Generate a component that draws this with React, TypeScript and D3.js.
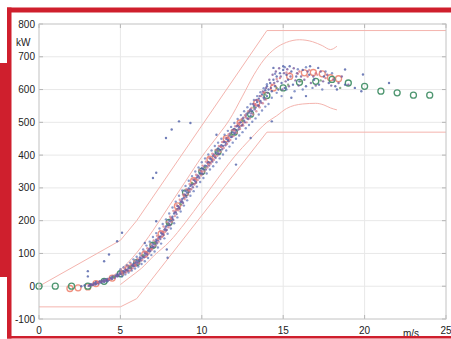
import React, { useEffect, useRef } from 'react';
import * as d3 from 'd3';

type Pt = [number, number];

// wind speed (m/s), power (kW)
const X_TICKS = [0, 5, 10, 15, 20, 25];
const Y_TICKS = [-100, 0, 100, 200, 300, 400, 500, 600, 700, 800];

const upperOuter: Pt[] = [[0, 0], [5, 140], [6, 200], [14, 780], [25, 780]];
const lowerOuter: Pt[] = [[0, -63], [5, -63], [6, -38], [14, 470], [25, 470]];
const upperInner: Pt[] = [
  [4.5, 30], [5, 50], [6, 102], [7, 170], [8, 245], [9, 320], [10, 395], [11, 460],
  [11.7, 508], [12.5, 580], [13.2, 645], [13.8, 690], [14.5, 725], [15.2, 744],
  [16, 752], [16.8, 746], [17.4, 734], [17.9, 722], [18.3, 732],
];
const lowerInner: Pt[] = [
  [5, 5], [5.6, 28], [6.3, 55], [7.1, 95], [8, 135], [9, 195], [10, 262], [11, 330],
  [12, 395], [13, 450], [14, 500], [14.6, 520], [15.2, 542], [16.2, 556], [17, 558],
  [17.5, 553], [17.9, 544], [18.3, 538],
];

const blueDots: Pt[] = [
  [2.6, 0], [2.8, 2], [3.1, 2], [3.2, 6], [3.3, 4], [3.4, 9], [3.5, 7], [3.5, 13], [3.6, 10], [3.7, 14],
  [3.8, 11], [3.9, 16], [4.0, 13], [4.0, 20], [4.1, 18], [4.2, 15], [4.2, 22], [4.3, 20], [4.4, 26],
  [4.5, 23], [4.5, 29], [4.6, 27], [4.7, 32], [4.8, 30], [4.8, 36], [4.9, 34], [5.0, 38], [5.0, 44],
  [5.1, 40], [5.2, 46], [5.3, 44], [5.3, 51], [5.4, 49], [5.5, 55], [5.5, 60], [5.6, 57], [5.7, 63],
  [5.8, 61], [5.8, 68], [5.9, 70], [6.0, 66], [6.0, 78], [6.1, 74], [6.2, 82], [6.2, 88], [6.3, 85],
  [6.4, 90], [6.5, 94], [6.5, 102], [6.6, 100], [6.7, 108], [6.8, 106], [6.8, 115], [6.9, 118],
  [7.0, 120], [7.0, 130], [7.1, 128], [7.2, 136], [7.2, 142], [7.3, 140], [7.4, 150], [7.5, 152],
  [7.5, 163], [7.6, 160], [7.7, 172], [7.8, 170], [7.8, 182], [7.9, 186], [8.0, 190], [8.0, 200],
  [8.1, 198], [8.2, 212], [8.2, 205], [8.3, 222], [8.4, 226], [8.5, 235], [8.5, 245], [8.6, 240],
  [8.7, 256], [8.8, 258], [8.8, 266], [8.9, 270], [9.0, 278], [9.0, 290], [9.1, 285], [9.2, 298],
  [9.3, 296], [9.3, 306], [9.4, 310], [9.5, 312], [9.5, 325], [9.6, 320], [9.7, 332], [9.8, 335],
  [9.9, 345], [10.0, 345], [10.0, 360], [10.1, 356], [10.2, 368], [10.3, 366], [10.4, 378],
  [10.5, 376], [10.5, 390], [10.6, 386], [10.7, 398], [10.8, 395], [10.9, 408], [11.0, 405],
  [11.0, 420], [11.1, 415], [11.2, 430], [11.3, 428], [11.4, 440], [11.5, 436], [11.5, 450],
  [11.6, 446], [11.7, 460], [11.8, 455], [11.9, 470], [12.0, 465], [12.0, 480], [12.1, 475],
  [12.2, 490], [12.3, 485], [12.4, 500], [12.5, 492], [12.5, 510], [12.6, 505], [12.7, 520],
  [12.8, 512], [12.9, 530], [13.0, 520], [13.0, 540], [13.1, 535], [13.2, 550], [13.3, 545],
  [13.4, 562], [13.5, 550], [13.5, 572], [13.6, 565], [13.7, 585], [13.8, 575], [13.9, 598],
  [14.0, 580], [14.0, 610], [14.1, 600], [14.2, 620], [14.3, 595], [14.4, 630], [14.5, 610],
  [14.6, 640], [14.7, 600], [14.8, 650], [14.9, 620], [15.0, 660], [15.1, 605], [15.2, 645],
  [15.3, 630], [15.5, 655], [15.6, 615], [15.8, 640], [16.0, 625], [16.2, 660], [16.4, 610],
  [16.6, 645], [16.9, 630], [17.2, 615], [17.5, 640], [17.8, 620], [18.2, 610], [18.8, 615],
  // scattered outliers
  [3.0, 46], [3.0, 30], [4.0, 76], [4.3, 97], [4.8, 137], [5.1, 163], [6.5, 132], [7.0, 330],
  [7.2, 346], [7.2, 198], [7.8, 452], [7.9, 87], [7.85, 112], [8.15, 478], [8.6, 503], [9.3, 498],
  [10.9, 462], [12.1, 371], [13.0, 452], [14.3, 503], [18.8, 661], [19.9, 646], [21.5, 620],
  [19.8, 595], [18.3, 600], [19.4, 605], [15.0, 671], [15.4, 671], [16.65, 671], [17.15, 666],
  [14.4, 666], [16.4, 580], [15.5, 575],
];
const wideDots: Pt[] = [
  [5.0, 52], [5.1, 30], [5.2, 58], [5.3, 36], [5.4, 64], [5.5, 42], [5.6, 72], [5.7, 48], [5.8, 82],
  [5.9, 54], [6.0, 90], [6.1, 60], [6.2, 100], [6.3, 68], [6.4, 112], [6.5, 76], [6.6, 124], [6.7, 86],
  [6.8, 136], [6.9, 95], [7.0, 150], [7.1, 106], [7.2, 162], [7.3, 118], [7.4, 176], [7.5, 130],
  [7.6, 190], [7.7, 146], [7.8, 204], [7.9, 160], [8.0, 222], [8.1, 176], [8.2, 240], [8.3, 192],
  [8.4, 258], [8.5, 210], [8.6, 276], [8.7, 228], [8.8, 292], [8.9, 246], [9.0, 306], [9.1, 262],
  [9.2, 322], [9.3, 276], [9.4, 336], [9.5, 290], [9.6, 350], [9.7, 304], [9.8, 362], [9.9, 318],
  [10.0, 378], [10.1, 330], [10.2, 390], [10.3, 344], [10.4, 402], [10.5, 356], [10.6, 414],
  [10.7, 366], [10.8, 428], [10.9, 378], [11.0, 438], [11.1, 390], [11.2, 450], [11.3, 402],
  [11.4, 462], [11.5, 414], [11.6, 474], [11.7, 426], [11.8, 486], [11.9, 438], [12.0, 498],
  [12.1, 450], [12.2, 510], [12.3, 460], [12.4, 522], [12.5, 470], [12.6, 534], [12.7, 482],
  [12.8, 546], [12.9, 492], [13.0, 556], [13.1, 502], [13.2, 568], [13.3, 512], [13.4, 580],
  [13.5, 524], [13.6, 592], [13.7, 536], [13.8, 604], [13.9, 548], [14.0, 616], [14.1, 556],
  [14.3, 575], [14.6, 590], [14.9, 580], [15.2, 600], [15.7, 595], [16.2, 600], [16.8, 605],
  [17.4, 600], [14.5, 648], [15.1, 668], [15.9, 662], [16.4, 668], [17.6, 655], [18.0, 650],
];
const purpleDots: Pt[] = [
  [3.05, 1], [3.15, 5], [3.25, 3], [3.35, 8], [3.45, 5], [3.55, 11], [3.65, 8], [3.75, 15], [3.85, 13],
  [3.95, 18], [4.05, 15], [4.15, 21], [4.25, 18], [4.35, 24], [4.45, 22], [4.55, 30], [4.65, 26],
  [4.75, 33], [4.85, 31], [4.95, 39], [5.05, 37], [5.15, 45], [5.25, 42], [5.35, 50], [5.45, 48],
  [5.55, 58], [5.65, 55], [5.75, 64], [5.85, 62], [5.95, 73], [6.05, 71], [6.15, 80], [6.25, 78],
  [6.35, 92], [6.45, 88], [6.55, 100], [6.65, 96], [6.75, 112], [6.85, 108], [6.95, 124], [7.05, 120],
  [7.15, 135], [7.25, 131], [7.35, 148], [7.45, 144], [7.55, 160], [7.65, 156], [7.75, 176],
  [7.85, 172], [7.95, 192], [8.05, 186], [8.15, 208], [8.25, 202], [8.35, 226], [8.45, 220],
  [8.55, 244], [8.65, 236], [8.75, 260], [8.85, 254], [8.95, 280], [9.05, 272], [9.15, 294],
  [9.25, 288], [9.35, 310], [9.45, 302], [9.55, 324], [9.65, 316], [9.75, 338], [9.85, 330],
  [9.95, 352], [10.05, 342], [10.15, 364], [10.25, 356], [10.35, 376], [10.45, 368], [10.55, 390],
  [10.65, 380], [10.75, 402], [10.85, 392], [10.95, 414], [11.05, 404], [11.15, 426], [11.25, 418],
  [11.35, 440], [11.45, 430], [11.55, 452], [11.65, 442], [11.75, 466], [11.85, 456], [11.95, 478],
  [12.05, 468], [12.15, 488], [12.25, 478], [12.35, 500], [12.45, 490], [12.55, 514], [12.65, 500],
  [12.75, 526], [12.85, 510], [12.95, 536], [13.05, 528], [13.15, 556], [13.25, 540], [13.35, 568],
  [13.45, 552], [13.55, 580], [13.65, 560], [13.75, 594], [13.85, 570], [13.95, 605], [14.05, 590],
  [14.15, 630], [14.25, 605], [14.35, 645], [14.45, 620], [14.55, 655], [14.65, 625], [14.75, 665],
  [14.85, 640], [14.95, 600], [15.05, 650], [15.15, 625], [15.25, 662], [15.35, 610], [15.45, 640],
  [15.65, 665], [15.75, 628], [15.85, 650], [15.95, 612], [16.1, 640], [16.3, 630], [16.5, 655],
  [16.7, 620], [16.85, 640], [17.0, 612], [17.3, 655], [17.45, 625], [17.7, 645], [17.95, 612],
  [18.1, 630], [18.4, 620], [18.6, 640], [19.0, 615],
];
const pinkDots: Pt[] = [
  [5.05, 48], [5.15, 36], [5.25, 54], [5.35, 42], [5.45, 60], [5.55, 48], [5.65, 68], [5.75, 55],
  [5.85, 76], [5.95, 62], [6.05, 84], [6.15, 70], [6.25, 94], [6.35, 80], [6.45, 106], [6.55, 90],
  [6.65, 116], [6.75, 100], [6.85, 128], [6.95, 112], [7.05, 140], [7.15, 124], [7.25, 154],
  [7.35, 136], [7.45, 168], [7.55, 150], [7.65, 182], [7.75, 166], [7.85, 196], [7.95, 180],
  [8.05, 212], [8.15, 196], [8.25, 230], [8.35, 214], [8.45, 248], [8.55, 232], [8.65, 264],
  [8.75, 248], [8.85, 280], [8.95, 266], [9.05, 296], [9.15, 280], [9.25, 312], [9.35, 296],
  [9.45, 326], [9.55, 310], [9.65, 340], [9.75, 324], [9.85, 354], [9.95, 338], [10.05, 368],
  [10.15, 350], [10.25, 380], [10.35, 362], [10.45, 392], [10.55, 374], [10.65, 404], [10.75, 386],
  [10.85, 416], [10.95, 398], [11.05, 428], [11.15, 410], [11.25, 440], [11.35, 422], [11.45, 452],
  [11.55, 434], [11.65, 464], [11.75, 446], [11.85, 476], [11.95, 458], [12.05, 488], [12.15, 468],
  [12.25, 498], [12.35, 480], [12.45, 510], [12.55, 490], [12.65, 522], [12.75, 500], [12.85, 534],
  [12.95, 512], [13.05, 544], [13.15, 524], [13.25, 556], [13.35, 534], [13.45, 568], [13.55, 546],
  [13.65, 580], [13.75, 558], [13.85, 592], [13.95, 570], [14.6, 632], [15.2, 652], [15.9, 648],
  [16.6, 660], [17.1, 645],
];
const redDots: Pt[] = [
  [3.6, 12], [4.3, 22], [5.1, 42], [5.9, 66], [6.6, 104], [7.3, 145], [8.1, 205], [8.9, 275],
  [9.6, 328], [10.4, 372], [11.2, 425], [12.0, 475], [12.7, 515], [13.3, 555], [13.8, 590],
  [14.3, 615], [14.8, 635], [15.4, 650], [16.0, 655], [16.5, 640], [17.0, 650], [17.6, 635],
  [6.9, 114], [7.6, 166], [8.4, 232], [9.2, 292], [10.0, 350], [10.8, 398], [11.6, 452], [12.3, 495],
];
const greenDots: Pt[] = [
  [4.6, 28], [5.6, 58], [6.4, 95], [7.1, 132], [7.9, 190], [8.7, 250], [9.4, 315], [10.2, 362],
  [11.0, 412], [11.8, 462], [12.5, 505], [13.2, 545], [13.9, 585], [14.6, 605], [15.3, 615],
  [16.1, 625], [17.3, 628], [18.5, 605],
];

// binned means
const greenBins: Pt[] = [
  [0, 0], [1, 0], [2, 0], [3, 0], [4, 15], [5, 38], [6, 72], [7, 125], [8, 195], [9, 285],
  [10, 350], [11, 410], [12, 470], [13, 525], [14, 582], [15, 605], [16, 622], [17, 625],
  [18, 631], [19, 620], [20, 610], [21, 595], [22, 590], [23, 583], [24, 583],
];
const redBins: Pt[] = [
  [1.9, -7], [2.4, -5], [3.0, -2], [3.5, 8], [4.5, 25], [5.5, 55], [6.5, 98], [7.5, 160],
  [8.5, 245], [9.5, 322], [10.5, 388], [11.5, 450], [12.35, 498], [13.37, 559], [14.4, 605],
  [15.4, 640], [16.3, 651], [16.85, 652], [17.4, 648], [17.9, 636], [18.4, 633],
];

const W = 451;
const H = 339;
const PLOT = { left: 39, right: 446, top: 24, bottom: 319 };
const RED = '#cf1f2d';
const ENVELOPE = '#f4b4ae';
const FONT = '"Liberation Sans", Arial, sans-serif';

const App: React.FC = () => {
  const ref = useRef<SVGSVGElement>(null);

  useEffect(() => {
    if (!ref.current) return;
    const svg = d3.select(ref.current);
    svg.selectAll('*').remove();

    const x = d3.scaleLinear().domain([0, 25]).range([PLOT.left, PLOT.right]);
    const y = d3.scaleLinear().domain([-100, 800]).range([PLOT.bottom, PLOT.top]);

    svg.append('rect').attr('width', W).attr('height', H).attr('fill', '#fff');

    // grid
    const grid = svg.append('g').attr('stroke', '#e8e8e8').attr('stroke-width', 1);
    X_TICKS.slice(1, -1).forEach(t =>
      grid.append('line').attr('x1', x(t)).attr('x2', x(t)).attr('y1', PLOT.top).attr('y2', PLOT.bottom));
    Y_TICKS.slice(1, -1).forEach(t =>
      grid.append('line').attr('y1', y(t)).attr('y2', y(t)).attr('x1', PLOT.left).attr('x2', PLOT.right));

    // tick marks on all four sides
    const ticks = svg.append('g').attr('stroke', '#b5b5b5').attr('stroke-width', 1);
    X_TICKS.forEach(t => {
      ticks.append('line').attr('x1', x(t)).attr('x2', x(t)).attr('y1', PLOT.bottom).attr('y2', PLOT.bottom - 4);
      ticks.append('line').attr('x1', x(t)).attr('x2', x(t)).attr('y1', PLOT.top).attr('y2', PLOT.top + 4);
    });
    Y_TICKS.forEach(t => {
      ticks.append('line').attr('y1', y(t)).attr('y2', y(t)).attr('x1', PLOT.left).attr('x2', PLOT.left + 4);
      ticks.append('line').attr('y1', y(t)).attr('y2', y(t)).attr('x1', PLOT.right).attr('x2', PLOT.right - 4);
    });

    // envelope lines
    const line = d3.line<Pt>().x(d => x(d[0])).y(d => y(d[1])).curve(d3.curveLinear);
    const smooth = d3.line<Pt>().x(d => x(d[0])).y(d => y(d[1])).curve(d3.curveMonotoneX);
    [line(upperOuter), line(lowerOuter), smooth(upperInner), smooth(lowerInner)].forEach(d =>
      svg.append('path').attr('d', d).attr('fill', 'none').attr('stroke', ENVELOPE).attr('stroke-width', 1));

    // binned means (drawn under the scatter)
    const rings = (data: Pt[], color: string) =>
      svg.append('g').selectAll('circle').data(data).enter().append('circle')
        .attr('cx', d => x(d[0])).attr('cy', d => y(d[1])).attr('r', 3)
        .attr('fill', 'none').attr('stroke', color).attr('stroke-width', 1.3);
    rings(redBins, '#f0917f');
    rings(greenBins, '#4e9670');

    // scatter dots
    const dots = (data: Pt[], color: string, opacity = 0.8) =>
      svg.append('g').selectAll('circle').data(data).enter().append('circle')
        .attr('cx', d => x(d[0])).attr('cy', d => y(d[1])).attr('r', 1.2)
        .attr('fill', color).attr('opacity', opacity);
    dots(wideDots, '#5a6db5', 0.7);
    dots(blueDots, '#4f5fa8');
    dots(pinkDots, '#d77f8c', 0.75);
    dots(purpleDots, '#7a5c9e');
    dots(redDots, '#d9707a');
    dots(greenDots, '#6f9a6a');

    // plot box
    svg.append('rect').attr('x', PLOT.left).attr('y', PLOT.top)
      .attr('width', PLOT.right - PLOT.left).attr('height', PLOT.bottom - PLOT.top)
      .attr('fill', 'none').attr('stroke', '#c2c2c2').attr('stroke-width', 1);

    // labels
    const txt = svg.append('g').style('font-family', FONT).style('font-size', '10px').attr('fill', '#222');
    Y_TICKS.forEach(t =>
      txt.append('text').attr('x', 35).attr('y', y(t) + 3.5).attr('text-anchor', 'end').text(String(t)));
    X_TICKS.forEach(t =>
      txt.append('text').attr('x', x(t)).attr('y', 334).attr('text-anchor', 'middle').text(String(t)));
    txt.append('text').attr('x', 16).attr('y', 45.5).text('kW');
    txt.append('text').attr('x', 403).attr('y', 337).text('m/s');

    // red frame
    svg.append('rect').attr('x', 7).attr('y', 7.5).attr('width', W - 7).attr('height', 5).attr('fill', RED);
    svg.append('rect').attr('x', 7).attr('y', 7.5).attr('width', 4.5).attr('height', 331).attr('fill', RED);
    svg.append('rect').attr('x', 7).attr('y', 336).attr('width', W - 7).attr('height', 2.5).attr('fill', RED);
    svg.append('rect').attr('x', 0).attr('y', 63).attr('width', 11).attr('height', 214).attr('fill', RED);
  }, []);

  return (
    <svg ref={ref} width={W} height={H} style={{ position: 'absolute', left: 0, top: 0, display: 'block' }} />
  );
};

export default App;
